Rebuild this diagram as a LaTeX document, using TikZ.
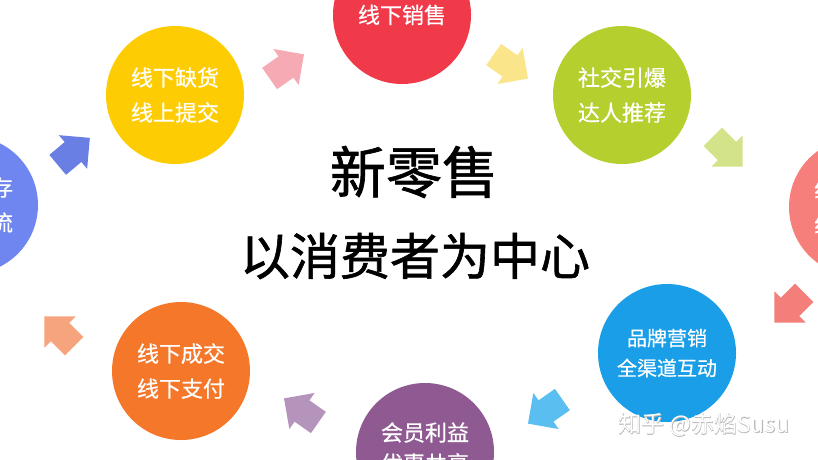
\documentclass[tikz,border=0pt]{standalone}
\usepackage{fontspec}
\setmainfont{Noto Sans CJK SC}
\newfontfamily\heavyfont{Noto Sans CJK SC}[FakeBold=1.2]
\newfontfamily\midfont{Noto Sans CJK SC}[FakeBold=0.5]
\newfontfamily\rimfont{Noto Sans CJK SC}[FakeBold=2.5]
\usetikzlibrary{positioning}
\definecolor{cred}{RGB}{240,58,74}
\definecolor{cyellow}{RGB}{254,204,2}
\definecolor{cgreen}{RGB}{181,207,47}
\definecolor{cblue}{RGB}{111,134,240}
\definecolor{cpink}{RGB}{247,127,123}
\definecolor{corange}{RGB}{245,119,42}
\definecolor{cpurple}{RGB}{143,90,145}
\definecolor{csky}{RGB}{26,158,232}
\tikzset{
  bubble/.style={circle, minimum size=138pt, inner sep=0pt, text=white, align=center,
    font=\midfont\fontsize{22}{35}\selectfont},
  pics/fatarrow/.style={code={\fill (22,0)--(0,22)--(0,13)--(-20,13)--(-20,-13)--(0,-13)--(0,-22)--cycle;}}
}
\begin{document}
\begin{tikzpicture}[x=1pt, y=-1pt]
\useasboundingbox (0,0) rectangle (818,459);
\clip (0,0) rectangle (818,459);
% circles round the centre
\node[bubble, fill=cred] (sale) at (402,15) {\raisebox{2pt}{线下销售}};
\node[bubble, fill=cyellow] (order) at (175,95) {线下缺货\\线上提交};
\node[bubble, fill=cgreen] (social) at (622,95) {社交引爆\\达人推荐};
\node[bubble, fill=cblue] (stock) at (-31,205) {共享库存\\智慧物流};
\node[bubble, fill=cpink] (online) at (858,207) {线上引流\\线下体验};
\node[bubble, fill=corange] (pay) at (181,371) {线下成交\\线下支付};
\node[bubble, fill=cpurple] (member) at (425,452) {};
\node[text=white, align=center, font=\midfont\fontsize{22}{31}\selectfont] (membertext) at (425,448) {会员利益\\优惠共享};
\node[bubble, fill=csky, font=\midfont\fontsize{20}{30}\selectfont] (brand) at (667,353) {品牌营销\\全渠道互动};
% centre text
\node[font=\heavyfont\fontsize{56}{56}\selectfont] (title) at (414,172) {新零售};
\node[font=\heavyfont\fontsize{50}{50}\selectfont] (sub) at (415,256) {以消费者为中心};
% arrows
\pic[fill=cblue!95!black, rotate=40] at (73,152) {fatarrow};
\pic[fill={rgb,255:red,246;green,170;blue,180}, rotate=35] at (286,67) {fatarrow};
\pic[fill={rgb,255:red,251;green,229;blue,138}, rotate=-35] at (510,66) {fatarrow};
\pic[fill={rgb,255:red,211;green,227;blue,138}, rotate=-45] at (727,151) {fatarrow};
\pic[fill={rgb,255:red,244;green,127;blue,122}, rotate=-135] at (790,307) {fatarrow};
\pic[fill={rgb,255:red,91;green,190;blue,240}, rotate=-145] at (546,411) {fatarrow};
\pic[fill={rgb,255:red,181;green,148;blue,188}, rotate=145] at (302,411) {fatarrow};
\pic[fill={rgb,255:red,246;green,164;blue,126}, rotate=135] at (60,332) {fatarrow};
% watermark
\node[font=\rimfont\fontsize{23}{23}\selectfont, text=gray!55] (markrim) at (704,425) {知乎 @赤焰Susu};
\node[font=\fontsize{23}{23}\selectfont, text=white] (mark) at (704,425) {知乎 @赤焰Susu};
\end{tikzpicture}
\end{document}
